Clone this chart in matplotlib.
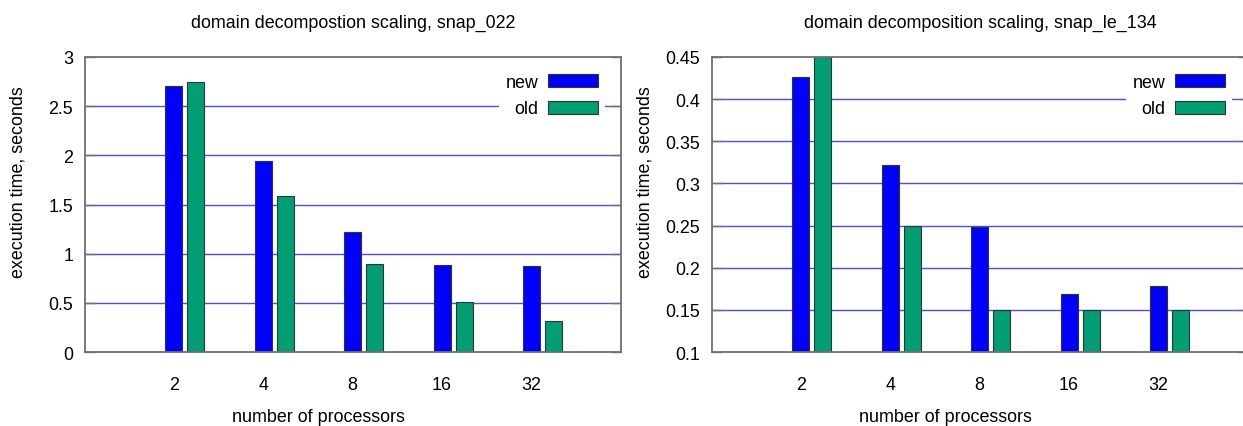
import matplotlib
matplotlib.use("Agg")
import matplotlib.pyplot as plt
from matplotlib.patches import Patch
import numpy as np

plt.rcParams['font.family'] = ['Liberation Sans', 'DejaVu Sans']
plt.rcParams['font.size'] = 12.9

categories = ["2", "4", "8", "16", "32"]

title_left = "domain decompostion scaling, snap_022"
new_left = [2.71, 1.94, 1.22, 0.88, 0.87]
old_left = [2.75, 1.59, 0.90, 0.51, 0.32]
yticks_left = [0, 0.5, 1, 1.5, 2, 2.5, 3]
ylim_left = (0, 3)

title_right = "domain decomposition scaling, snap_le_134"
new_right = [0.426, 0.322, 0.248, 0.169, 0.178]
old_right = [0.46, 0.25, 0.15, 0.15, 0.15]
yticks_right = [0.1, 0.15, 0.2, 0.25, 0.3, 0.35, 0.4, 0.45]
ylim_right = (0.1, 0.45)

NEW_COLOR = "#0000ff"
OLD_COLOR = "#009e73"
GRID_COLOR = "#4a4aff"
FRAME_COLOR = "#707070"

W, H = 1243, 427
fig = plt.figure(figsize=(W / 100, H / 100), dpi=100)

def px_axes(x0, x1, y0, y1):
    return fig.add_axes([x0 / W, 1 - y1 / H, (x1 - x0) / W, (y1 - y0) / H])

def fmt(v):
    return "%g" % v

def draw(ax, title, new, old, yticks, ylim):
    x = np.arange(len(categories))
    width = 0.19
    ax.bar(x, new, width, color=NEW_COLOR, edgecolor="#333333", linewidth=0.8, zorder=3)
    ax.bar(x + 0.25, old, width, color=OLD_COLOR, edgecolor="#333333", linewidth=0.8, zorder=3)
    ax.set_xlim(-0.99, 5.0)
    ax.set_ylim(*ylim)
    ax.set_xticks(x)
    ax.set_xticklabels(categories)
    ax.set_yticks(yticks)
    ax.set_yticklabels([fmt(v) for v in yticks])
    ax.tick_params(axis='x', length=0, pad=17)
    ax.tick_params(axis='y', direction='in', length=7, width=1, color=FRAME_COLOR,
                   left=True, right=True, pad=8.5)
    for yv in yticks[1:-1]:
        ax.axhline(yv, color=GRID_COLOR, linewidth=1.0, zorder=1)
    for sp in ax.spines.values():
        sp.set_color(FRAME_COLOR)
        sp.set_linewidth(1.3)
        sp.set_zorder(4)
    ax.set_title(title, pad=22, fontsize=12.9)
    ax.set_xlabel("number of processors", va="center")
    ax.xaxis.set_label_coords(0.435, -0.22)
    ax.set_ylabel("execution time, seconds", va="center")
    ax.yaxis.set_label_coords(-0.125, 0.58)
    handles = [Patch(facecolor=NEW_COLOR, edgecolor="#333333", linewidth=0.8),
               Patch(facecolor=OLD_COLOR, edgecolor="#333333", linewidth=0.8)]
    leg = ax.legend(handles, ["new", "old"], loc="upper right", markerfirst=False,
                    bbox_to_anchor=(1 - 6 / 536, 1),
                    frameon=True, fancybox=False, framealpha=1.0,
                    handlelength=2.8, handleheight=0.75, handletextpad=0.52,
                    labelspacing=0.52, borderaxespad=0.55, borderpad=0.4)
    leg.get_frame().set_edgecolor("none")
    leg.get_frame().set_facecolor("white")
    leg.set_zorder(5)

ax1 = px_axes(85, 621, 58, 353)
draw(ax1, title_left, new_left, old_left, yticks_left, ylim_left)
ax2 = px_axes(712, 1248, 58, 353)
draw(ax2, title_right, new_right, old_right, yticks_right, ylim_right)

fig.savefig("out.png", dpi=100)
